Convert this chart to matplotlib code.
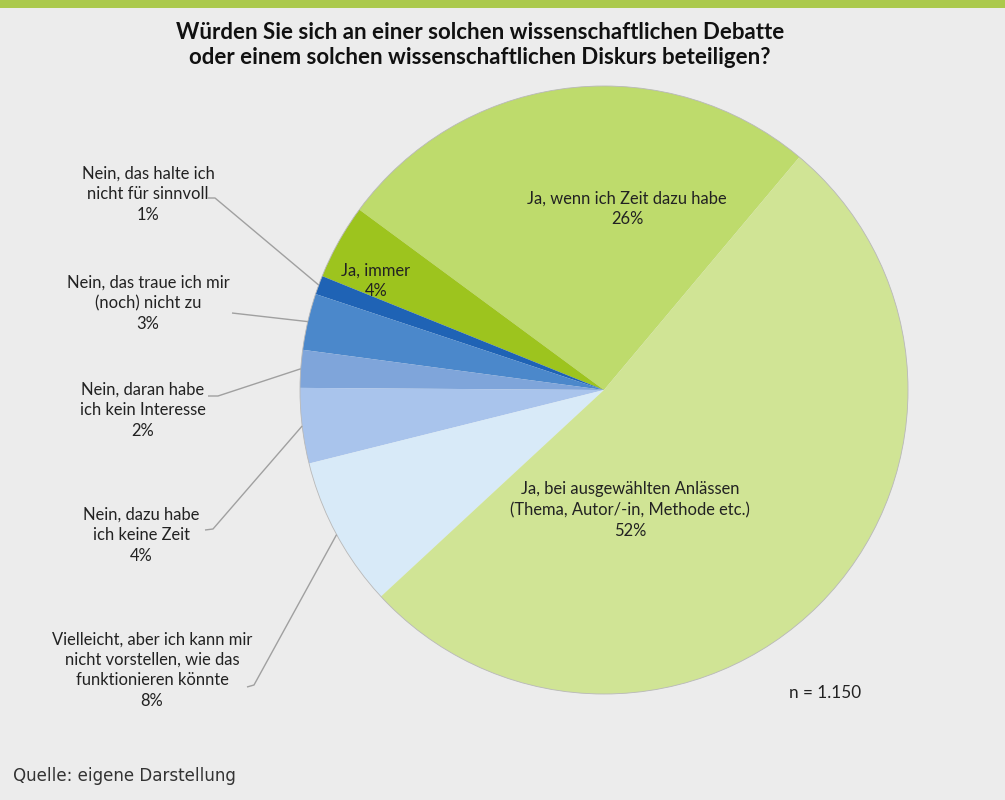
import numpy as np
import matplotlib
matplotlib.use("Agg")
import matplotlib.pyplot as plt
from matplotlib.patches import Rectangle

# ---- data ----
categories = [
    "Ja, wenn ich Zeit dazu habe",
    "Ja, immer",
    "Nein, das halte ich\nnicht für sinnvoll",
    "Nein, das traue ich mir\n(noch) nicht zu",
    "Nein, daran habe\nich kein Interesse",
    "Nein, dazu habe\nich keine Zeit",
    "Vielleicht, aber ich kann mir\nnicht vorstellen, wie das\nfunktionieren könnte",
    "Ja, bei ausgewählten Anlässen\n(Thema, Autor/-in, Methode etc.)",
]
values = [26, 4, 1, 3, 2, 4, 8, 52]
colors = ["#bedb6c", "#9dc41e", "#1f63b5", "#4b88cb", "#7fa5da",
          "#a9c4ec", "#d8eaf8", "#d0e495"]
title = "Würden Sie sich an einer solchen wissenschaftlichen Debatte\noder einem solchen wissenschaftlichen Diskurs beteiligen?"
n_note = "n = 1.150"
source = "Quelle: eigene Darstellung"

W, H = 1005, 800
fig = plt.figure(figsize=(W / 100, H / 100), dpi=100)
fig.patch.set_facecolor("#ececec")
ax = fig.add_axes([0, 0, 1, 1])

FONT = "Lato"
cx, cy, R = 604, 410, 304
wedges, _ = ax.pie(values, colors=colors, startangle=50, counterclock=True,
                   center=(cx, cy), radius=R, frame=True,
                   wedgeprops=dict(linewidth=0))
ax.set_xlim(0, W)
ax.set_ylim(0, H)
ax.set_aspect("equal")
ax.axis("off")

# top green bar
ax.add_patch(Rectangle((0, H - 8), W, 8, color="#abc94c", lw=0))

# outer faint outline
circ = plt.Circle((cx, cy), R, fill=False, ec="#b8b8b8", lw=0.6)
ax.add_patch(circ)

ax.text(480, H - 45, title, ha="center", va="center", fontsize=16,
        fontweight="bold", family=FONT, color="#111111", linespacing=1.2)

txtc = "#222222"
FS = 11.9
LS = 1.35
# inner labels
inner = {0: (627, H - 209), 1: (376, H - 281), 7: (630, H - 510)}
for i, (x, y) in inner.items():
    ax.text(x, y, f"{categories[i]}\n{values[i]}%", ha="center", va="center",
            fontsize=FS, family=FONT, color=txtc, linespacing=LS)

# outer labels with leader lines
outer = {
    2: ((148, H - 194), (208, H - 198), (215, H - 198)),
    3: ((148, H - 303), (232, H - 313), (232, H - 313)),
    4: ((143, H - 410), (208, H - 396), (218, H - 396)),
    5: ((141, H - 535), (205, H - 530), (213, H - 529)),
    6: ((152, H - 670), (247, H - 687), (254, H - 685)),
}
for i, ((tx, ty), p0, p1) in outer.items():
    ax.text(tx, ty, f"{categories[i]}\n{values[i]}%", ha="center", va="center",
            fontsize=FS, family=FONT, color=txtc, linespacing=LS)
    w = wedges[i]
    mid = np.deg2rad((w.theta1 + w.theta2) / 2)
    ex, ey = cx + R * np.cos(mid), cy + R * np.sin(mid)
    ax.plot([p0[0], p1[0], ex], [p0[1], p1[1], ey], color="#a0a0a0", lw=1.0,
            solid_capstyle="butt")

ax.text(825, H - 693, n_note, ha="center", va="center", fontsize=12.3,
        family=FONT, color=txtc)
ax.text(13, H - 776, source, ha="left", va="center", fontsize=13.3,
        family="DejaVu Sans", fontstretch="condensed", color="#333333")

fig.savefig("out.png", dpi=100, facecolor=fig.get_facecolor())
